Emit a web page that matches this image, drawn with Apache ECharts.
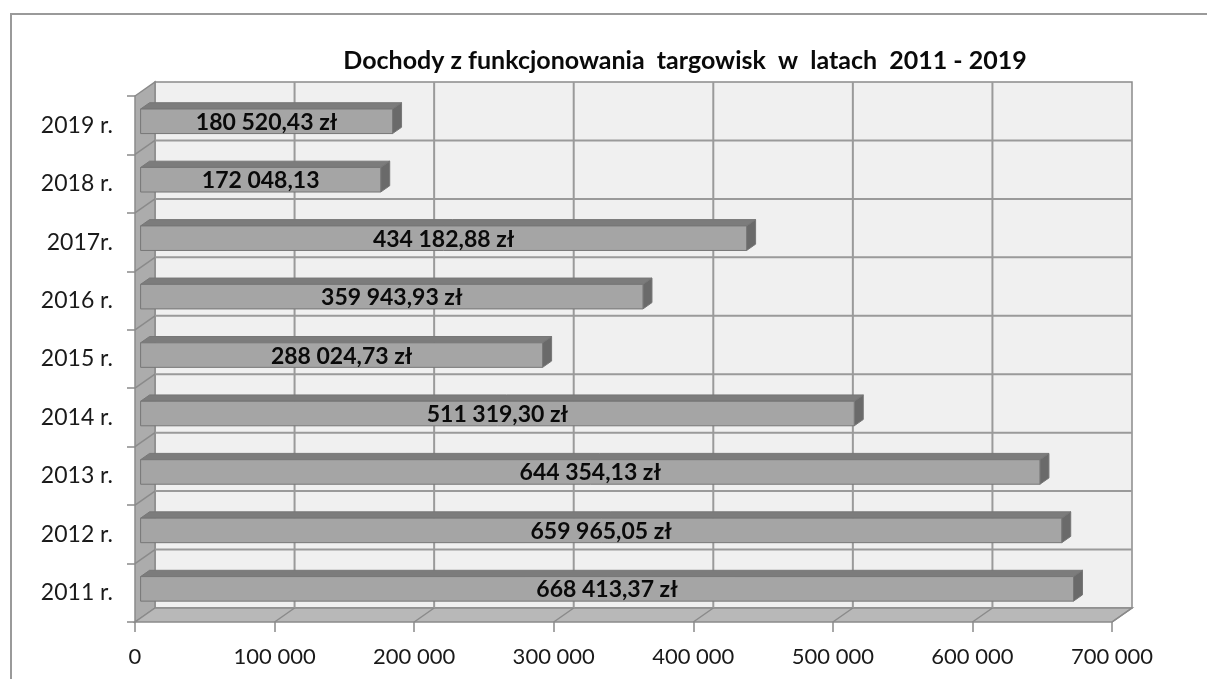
<!DOCTYPE html>
<html>
<head>
<meta charset="utf-8">
<script src="https://cdn.jsdelivr.net/npm/echarts@6/dist/echarts.min.js"></script>
<style>
  html, body { margin: 0; padding: 0; background: #fff; }
  #frame { position: absolute; left: 10px; top: 13px; width: 1300px; height: 800px; border: 2px solid #9a9a9a; box-sizing: border-box; }
  #chart { position: absolute; left: 0; top: 0; width: 1207px; height: 679px; }
</style>
</head>
<body>
<div id="frame"></div>
<div id="chart"></div>
<script>
// dane z wykresu (od dołu do góry)
const years = ['2011 r.', '2012 r.', '2013 r.', '2014 r.', '2015 r.', '2016 r.', '2017r.', '2018 r.', '2019 r.']
const incomes = [668413.37, 659965.05, 644354.13, 511319.30, 288024.73, 359943.93, 434182.88, 172048.13, 180520.43]
const incomeLabels = ['668 413,37 zł', '659 965,05 zł', '644 354,13 zł', '511 319,30 zł', '288 024,73 zł',
  '359 943,93 zł', '434 182,88 zł', '172 048,13', '180 520,43 zł']
const xTicks = [0, 100000, 200000, 300000, 400000, 500000, 600000, 700000]

// głębokość "3D"
const DX = 20, DY = 14
const BAR_F = 0.28, BAR_D = 0.45, BAR_H = 0.42

const chart = echarts.init(document.getElementById('chart'), null, { renderer: 'canvas' })

function fmtThousands(v) {
  return String(v).replace(/\B(?=(\d{3})+(?!\d))/g, ' ')
}

function renderFrame(params, api) {
  const bandH = api.size([0, 1])[1]
  const x0 = api.coord([xTicks[0], 0])[0]
  const x1 = api.coord([xTicks[xTicks.length - 1], 0])[0]
  const bottom = api.coord([0, 0])[1] + bandH / 2
  const top = api.coord([0, years.length - 1])[1] - bandH / 2
  const wallStroke = { stroke: '#8a8a8a', lineWidth: 1.5 }
  const grid = { stroke: '#9a9a9a', lineWidth: 2 }
  const children = []
  // tylna ściana
  children.push({
    type: 'rect',
    shape: { x: x0 + DX, y: top - DY, width: x1 - x0, height: bottom - top },
    style: Object.assign({ fill: '#f0f0f0' }, wallStroke)
  })
  // lewa ściana
  children.push({
    type: 'polygon',
    shape: { points: [[x0, top], [x0 + DX, top - DY], [x0 + DX, bottom - DY], [x0, bottom]] },
    style: Object.assign({ fill: '#acacac' }, wallStroke)
  })
  // podłoga
  children.push({
    type: 'polygon',
    shape: { points: [[x0, bottom], [x0 + DX, bottom - DY], [x1 + DX, bottom - DY], [x1, bottom]] },
    style: Object.assign({ fill: '#b8b8b8' }, wallStroke)
  })
  // linie siatki pionowe
  xTicks.forEach(function (t, i) {
    const x = api.coord([t, 0])[0]
    if (i > 0 && i < xTicks.length - 1) {
      children.push({ type: 'line', shape: { x1: x + DX, y1: top - DY, x2: x + DX, y2: bottom - DY }, style: grid })
    }
    if (i > 0) {
      children.push({ type: 'line', shape: { x1: x, y1: bottom, x2: x + DX, y2: bottom - DY }, style: wallStroke })
    }
  })
  // linie siatki poziome
  for (let k = 1; k < years.length; k++) {
    const y = bottom - k * bandH
    children.push({ type: 'line', shape: { x1: x0 + DX, y1: y - DY, x2: x1 + DX, y2: y - DY }, style: grid })
    children.push({ type: 'line', shape: { x1: x0, y1: y, x2: x0 + DX, y2: y - DY }, style: wallStroke })
  }
  return { type: 'group', children: children }
}

function renderBar(params, api) {
  const bandH = api.size([0, 1])[1]
  const cat = api.value(1)
  const fx = DX * BAR_F, fy = DY * BAR_F
  const bx = DX * BAR_D, by = DY * BAR_D
  const h = bandH * BAR_H
  const xa = api.coord([0, cat])[0] + fx
  const xb = api.coord([api.value(0), cat])[0] + fx
  const yc = api.coord([0, cat])[1] - fy
  const yt = yc - h / 2, yb = yc + h / 2
  const edge = { stroke: '#777', lineWidth: 1 }
  return {
    type: 'group',
    children: [
      {
        type: 'polygon',
        shape: { points: [[xa, yt], [xa + bx, yt - by], [xb + bx, yt - by], [xb, yt]] },
        style: Object.assign({ fill: '#7c7c7c' }, edge)
      },
      {
        type: 'polygon',
        shape: { points: [[xb, yt], [xb + bx, yt - by], [xb + bx, yb - by], [xb, yb]] },
        style: Object.assign({ fill: '#6a6a6a' }, edge)
      },
      {
        type: 'rect',
        shape: { x: xa, y: yt, width: xb - xa, height: h },
        style: Object.assign({ fill: '#a5a5a5' }, edge)
      },
      {
        type: 'text',
        style: {
          x: (xa + xb) / 2, y: yc + 1,
          text: incomeLabels[params.dataIndex],
          align: 'center', verticalAlign: 'middle',
          font: 'bold 23px Lato', fill: '#0a0a0a'
        }
      }
    ]
  }
}

chart.setOption({
  animation: false,
  title: {
    text: 'Dochody z funkcjonowania  targowisk  w  latach  2011 - 2019',
    left: 680, top: 43, textAlign: 'center',
    textStyle: { fontFamily: 'Lato', fontWeight: 'bold', fontSize: 25, color: '#0a0a0a' }
  },
  grid: { left: 135, right: 95, top: 96, bottom: 57 },
  xAxis: {
    type: 'value', min: 0, max: 700000, interval: 100000,
    axisLine: { show: false },
    axisTick: { show: true, length: 10, lineStyle: { color: '#8a8a8a', width: 1.5 } },
    splitLine: { show: false },
    axisLabel: {
      margin: 24, color: '#1a1a1a', fontFamily: 'Lato', fontSize: 22,
      formatter: function (v) { return fmtThousands(v) }
    }
  },
  yAxis: {
    type: 'category', data: years,
    axisLine: { show: false },
    axisTick: { show: true, length: 8, lineStyle: { color: '#8a8a8a', width: 1.5 } },
    axisLabel: { margin: 22, color: '#1a1a1a', fontFamily: 'Lato', fontSize: 23 }
  },
  series: [
    {
      type: 'custom', name: 'frame', silent: true, z: 1,
      data: [[0, 0]], renderItem: renderFrame, clip: false
    },
    {
      type: 'custom', name: 'dochody', z: 2,
      data: incomes.map(function (v, i) { return [v, i] }),
      encode: { x: 0, y: 1 },
      renderItem: renderBar, clip: false
    }
  ]
})
</script>
</body>
</html>
